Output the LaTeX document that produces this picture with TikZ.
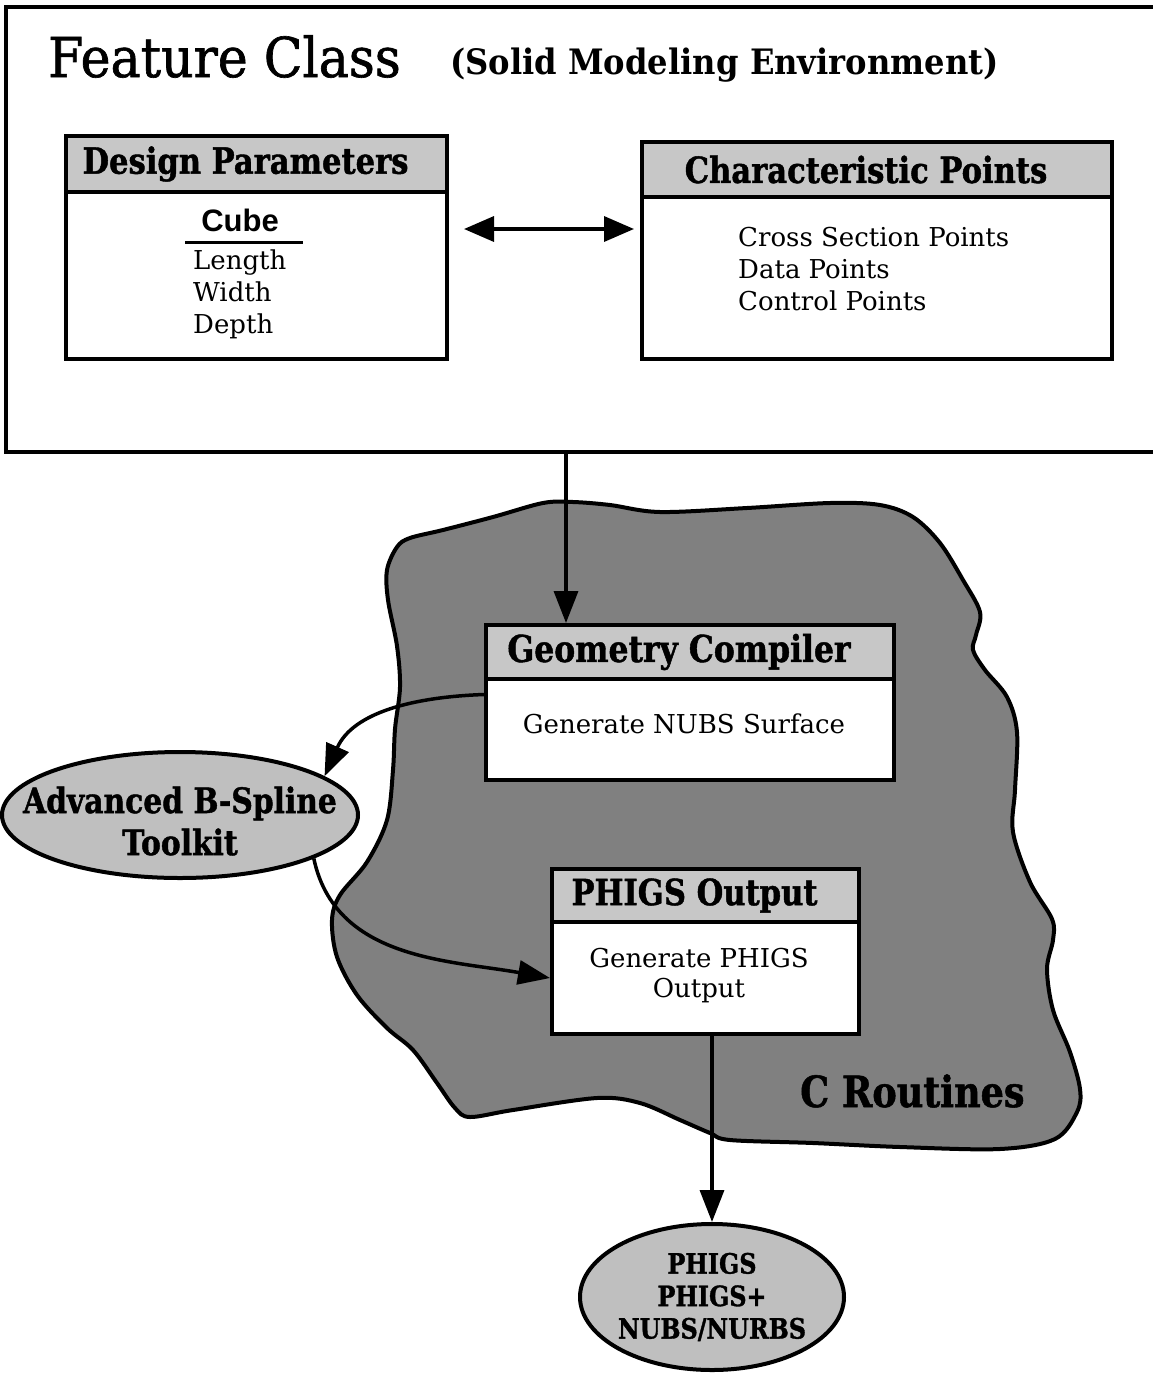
\documentclass[tikz,border=0pt]{standalone}
\usepackage{fontspec}
\setmainfont{DejaVu Serif}
\newfontfamily\hdfont[FakeStretch=0.85,FakeBold=1.2]{DejaVu Serif}
\newfontfamily\subfont[FakeStretch=0.92]{DejaVu Serif}
\newfontfamily\ttlfont[FakeStretch=0.92,FakeBold=1.2]{DejaVu Serif}
\newfontfamily\cubefont{Liberation Sans}
\usetikzlibrary{arrows.meta,shapes.geometric}

\tikzset{
  heavy/.style={line width=4pt},
  hdbox/.style={draw, heavy, fill=black!22, inner sep=0pt, anchor=north west,
    font=\hdfont\bfseries\fontsize{36}{40}\selectfont,
    execute at end node={\hspace*{22pt}}},
  bodybox/.style={draw, heavy, fill=white, inner sep=0pt, anchor=north west},
  bodytext/.style={inner sep=0pt, font=\fontsize{26}{30}\selectfont},
  bubble/.style={ellipse, draw, heavy, fill=black!25, inner sep=0pt},
  bubbletext/.style={inner sep=0pt, align=center},
  tip/.style={-{Triangle[length=32pt,width=24pt]}},
  arr/.style={line width=3.5pt, tip},
  blob/.style={draw, line width=4pt, fill=black!50},
}

\begin{document}
\begin{tikzpicture}[x=1pt,y=-1pt]
\useasboundingbox (0,0) rectangle (1153,1374);

% outer frame of the feature class
\draw[heavy] (1160,7) -- (6,7) -- (6,452) -- (1160,452);
\coordinate (fcbot) at (566,452);
\node[anchor=base west, inner sep=0pt, font=\ttlfont\fontsize{55}{60}\selectfont] (title) at (48,77) {Feature Class};
\node[anchor=base west, inner sep=0pt, font=\subfont\bfseries\fontsize{35}{38}\selectfont] (subtitle) at (450,74) {(Solid Modeling Environment)};

% design parameters
\node[hdbox, minimum width=381pt, minimum height=56pt] (dphead) at (64,134) {Design Parameters};
\node[bodybox, minimum width=381pt, minimum height=167pt] (dpbody) at (64,190) {};
\node[anchor=base, inner sep=0pt, font=\cubefont\bfseries\fontsize{31}{34}\selectfont] (cube) at (240,231) {Cube};
\draw[line width=3pt] (185,242) -- (303,242);
\node[bodytext, anchor=north west, align=left, font=\fontsize{26}{32}\selectfont] (dims) at (193,250) {Length\\Width\\Depth};

% characteristic points
\node[hdbox, minimum width=470pt, minimum height=55pt] (cphead) at (640,140) {Characteristic Points};
\node[bodybox, minimum width=470pt, minimum height=162pt] (cpbody) at (640,195) {};
\node[bodytext, anchor=north west, align=left, font=\fontsize{26}{32}\selectfont] (pts) at (738,227) {Cross Section Points\\Data Points\\Control Points};

\coordinate (linky) at (0,229);
\draw[line width=3.5pt, {Triangle[length=30pt,width=25pt]}-{Triangle[length=30pt,width=25pt]}, shorten <=15pt, shorten >=6pt]
  (dpbody.east |- linky) -- (cpbody.west |- linky);

% C routines region
\path[blob] plot[smooth cycle, tension=0.55] coordinates {
  (387,570) (397,547) (410,538) (443,530) (493,517) (543,503) (573,502) (610,505)
  (660,512) (747,508) (830,503) (880,505) (913,517) (940,543) (963,580) (980,612)
  (976,635) (973,650) (985,670) (1007,697) (1017,732) (1015,790) (1013,832) (1030,882)
  (1052,919) (1053,940) (1047,969) (1053,1010) (1070,1052) (1080,1089) (1077,1112)
  (1055,1139) (1000,1149) (900,1147) (813,1143) (730,1140) (710,1133) (680,1120)
  (640,1103) (597,1098) (513,1110) (470,1117) (455,1108) (437,1083) (413,1050)
  (387,1028) (357,995) (337,957) (332,920) (340,895) (367,862) (387,820) (393,770)
  (395,729) (400,687) (397,646) (388,600)};
\node[anchor=base west, inner sep=0pt, font=\hdfont\bfseries\fontsize{43}{46}\selectfont] (croutines) at (800,1107) {C Routines};

% geometry compiler
\node[hdbox, minimum width=408pt, minimum height=54pt, font=\hdfont\bfseries\fontsize{37}{40}\selectfont] (gchead) at (484,623) {Geometry Compiler};
\node[bodybox, minimum width=408pt, minimum height=101pt] (gcbody) at (484,677) {};
\node[bodytext, anchor=base] (nubs) at (684,733) {Generate NUBS Surface};

% PHIGS output
\node[hdbox, minimum width=307pt, minimum height=53pt] (pohead) at (550,867) {PHIGS Output};
\node[bodybox, minimum width=307pt, minimum height=112pt] (pobody) at (550,920) {};
\node[bodytext, anchor=north, align=center] (gen) at (699,948) {Generate PHIGS\\Output};

% toolkit and graphics standard ellipses
\node[bubble, minimum width=356pt, minimum height=126pt] (tk) at (180,815) {};
\node[bubbletext, font=\hdfont\bfseries\fontsize{35}{42}\selectfont] (tktext) at ([yshift=-6pt]tk.center) {Advanced B-Spline\\Toolkit};
\node[bubble, minimum width=264pt, minimum height=146pt] (ph) at (712,1297) {};
\node[bubbletext, font=\hdfont\bfseries\fontsize{28}{32.5}\selectfont] (phtext) at (ph.center) {PHIGS\\PHIGS+\\NUBS/NURBS};

% connectors
\draw[arr] (fcbot) -- (fcbot |- gchead.north);
\draw[arr] ([yshift=35pt]gcbody.west) to[out=182,in=66] (tk.15);
\draw[arr] (tk.-18) to[out=-78,in=170] (pobody.west);
\draw[arr] (pobody.south -| ph.north) -- (ph.north);
\end{tikzpicture}
\end{document}
